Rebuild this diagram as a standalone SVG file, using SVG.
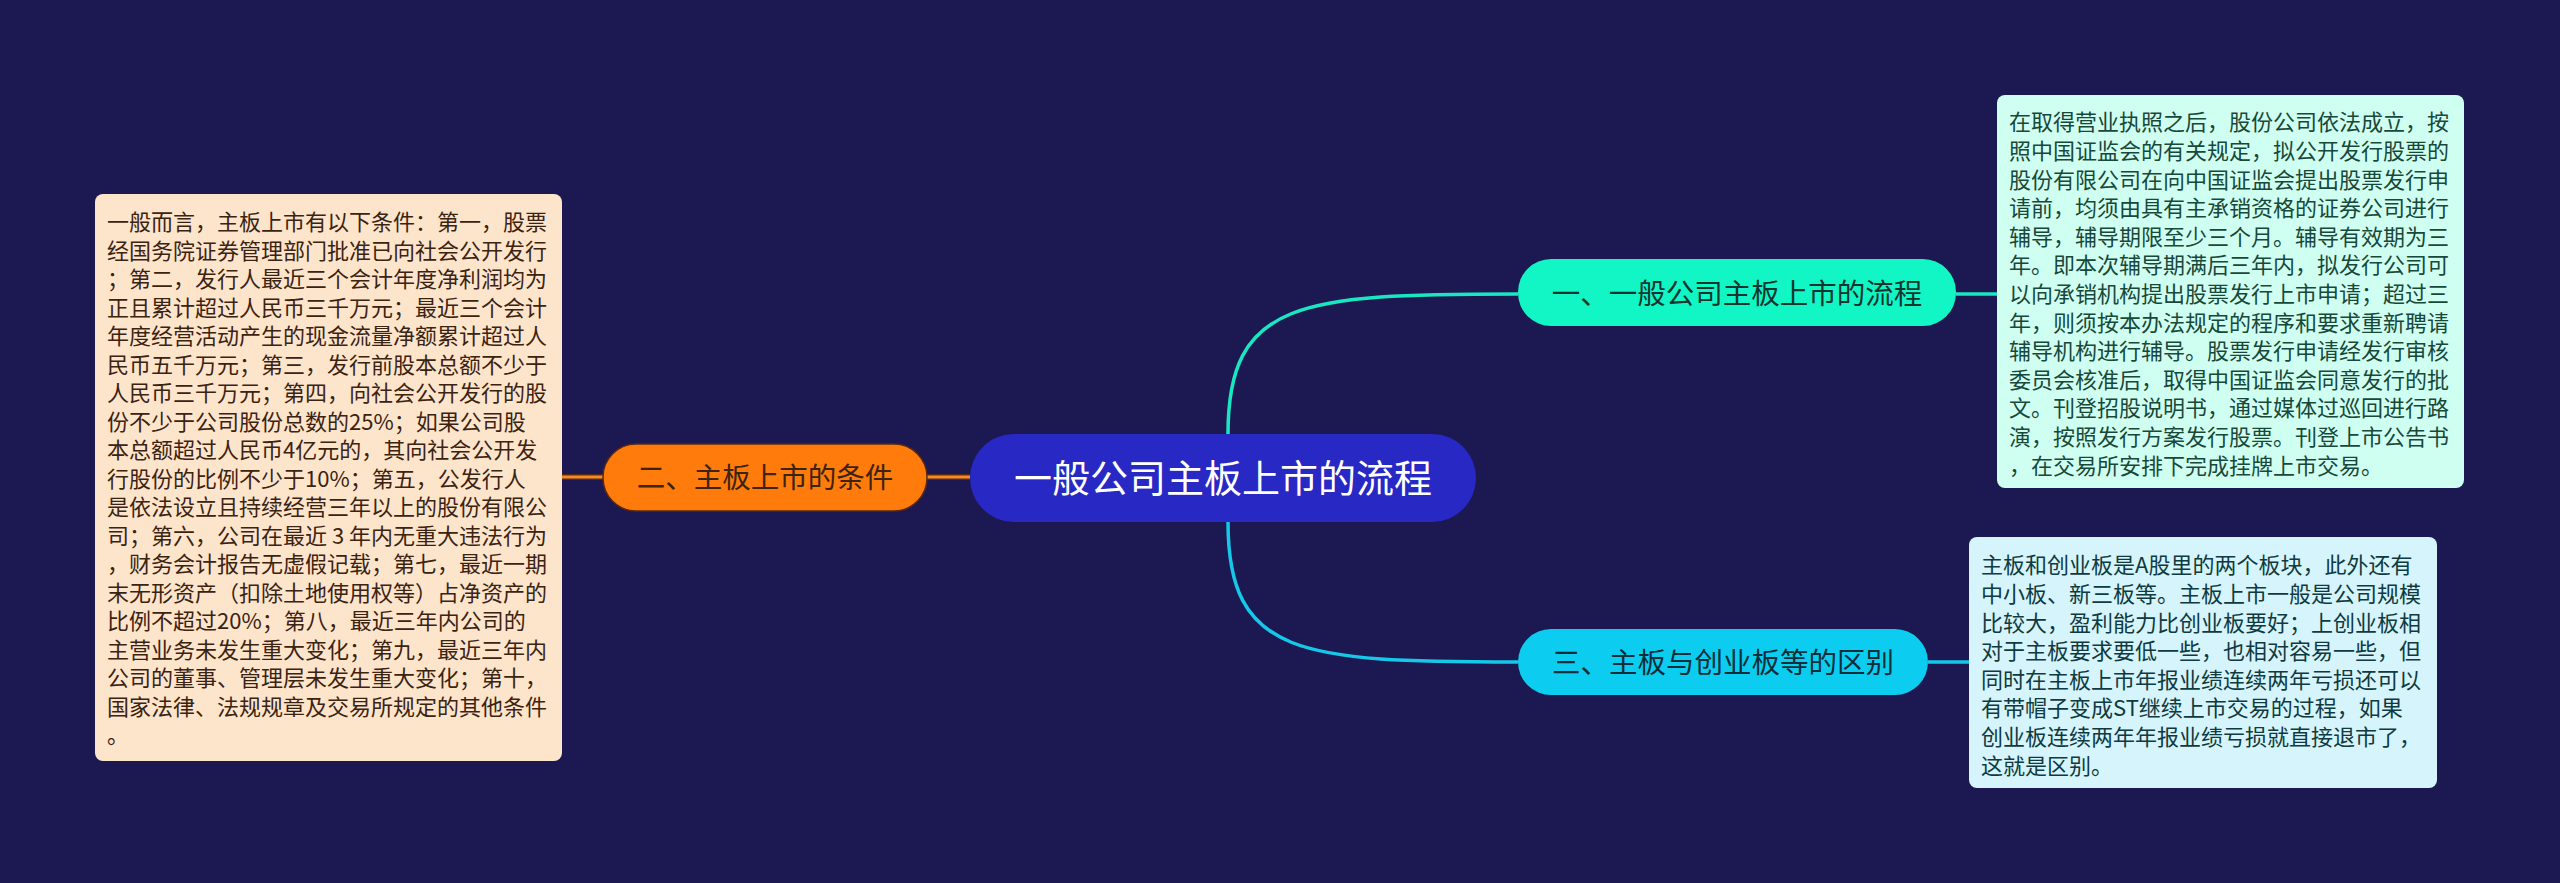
<svg xmlns="http://www.w3.org/2000/svg" width="2560" height="883" viewBox="0 0 2560 883">
<style>
.cjk{font-family:"Noto Sans CJK SC","Noto Sans",sans-serif;}
.body{font-size:22px;}
.topic{font-size:28.5px;}
</style>
<rect width="2560" height="883" fill="#1b1852"/>
<g id="connectors" fill="none">
<path d="M1228,434 C1228,300 1300,294 1518,294" stroke="#1ae6c2" stroke-width="3.5"/>
<path d="M1228,522 C1228,656 1300,662 1518,662" stroke="#16c8e8" stroke-width="3.5"/>
<line x1="562" y1="477" x2="603" y2="477" stroke="#5a2a10" stroke-width="6"/>
<line x1="562" y1="477" x2="603" y2="477" stroke="#f58a2a" stroke-width="3"/>
<line x1="927" y1="477" x2="970" y2="477" stroke="#5a2a10" stroke-width="6"/>
<line x1="927" y1="477" x2="970" y2="477" stroke="#f58a2a" stroke-width="3"/>
<line x1="1956" y1="294" x2="1997" y2="294" stroke="#1ae6c2" stroke-width="3.5"/>
<line x1="1928" y1="662" x2="1969" y2="662" stroke="#16c8e8" stroke-width="3.5"/>
</g>
<g id="root">
<rect x="970" y="434" width="506" height="88" rx="44" fill="#2828c4"/>
<text class="cjk" x="1223" y="492" font-size="38" fill="#ffffff" text-anchor="middle">一般公司主板上市的流程</text>
</g>
<g id="topic2">
<rect x="603" y="444" width="324" height="67" rx="33" fill="#ff7b0b" stroke="#5a2a10" stroke-width="1.5"/>
<text class="cjk topic" x="765" y="488" fill="#3d2410" text-anchor="middle">二、主板上市的条件</text>
</g>
<g id="topic1">
<rect x="1518" y="259" width="438" height="67" rx="33" fill="#12f5c4"/>
<text class="cjk topic" x="1737" y="304" fill="#10352f" text-anchor="middle">一、一般公司主板上市的流程</text>
</g>
<g id="topic3">
<rect x="1518" y="629" width="410" height="66" rx="33" fill="#0ccdf0"/>
<text class="cjk topic" x="1723" y="673" fill="#0a2f3a" text-anchor="middle">三、主板与创业板等的区别</text>
</g>
<g id="note2">
<rect x="95" y="194" width="467" height="567" rx="8" fill="#fde5cc"/>
<text class="cjk body" fill="#3b2312" x="107" y="230.4">
<tspan x="107">一般而言，主板上市有以下条件：第一，股票</tspan>
<tspan x="107" dy="28.5">经国务院证券管理部门批准已向社会公开发行</tspan>
<tspan x="107" dy="28.5">；第二，发行人最近三个会计年度净利润均为</tspan>
<tspan x="107" dy="28.5">正且累计超过人民币三千万元；最近三个会计</tspan>
<tspan x="107" dy="28.5">年度经营活动产生的现金流量净额累计超过人</tspan>
<tspan x="107" dy="28.5">民币五千万元；第三，发行前股本总额不少于</tspan>
<tspan x="107" dy="28.5">人民币三千万元；第四，向社会公开发行的股</tspan>
<tspan x="107" dy="28.5">份不少于公司股份总数的25%；如果公司股</tspan>
<tspan x="107" dy="28.5">本总额超过人民币4亿元的，其向社会公开发</tspan>
<tspan x="107" dy="28.5">行股份的比例不少于10%；第五，公发行人</tspan>
<tspan x="107" dy="28.5">是依法设立且持续经营三年以上的股份有限公</tspan>
<tspan x="107" dy="28.5">司；第六，公司在最近 3 年内无重大违法行为</tspan>
<tspan x="107" dy="28.5">，财务会计报告无虚假记载；第七，最近一期</tspan>
<tspan x="107" dy="28.5">末无形资产（扣除土地使用权等）占净资产的</tspan>
<tspan x="107" dy="28.5">比例不超过20%；第八，最近三年内公司的</tspan>
<tspan x="107" dy="28.5">主营业务未发生重大变化；第九，最近三年内</tspan>
<tspan x="107" dy="28.5">公司的董事、管理层未发生重大变化；第十，</tspan>
<tspan x="107" dy="28.5">国家法律、法规规章及交易所规定的其他条件</tspan>
<tspan x="107" dy="28.5">。</tspan>
</text>
</g>
<g id="note1">
<rect x="1997" y="95" width="467" height="393" rx="8" fill="#cffff1"/>
<text class="cjk body" fill="#17483a" x="2009" y="130.4">
<tspan x="2009">在取得营业执照之后，股份公司依法成立，按</tspan>
<tspan x="2009" dy="28.6">照中国证监会的有关规定，拟公开发行股票的</tspan>
<tspan x="2009" dy="28.6">股份有限公司在向中国证监会提出股票发行申</tspan>
<tspan x="2009" dy="28.6">请前，均须由具有主承销资格的证券公司进行</tspan>
<tspan x="2009" dy="28.6">辅导，辅导期限至少三个月。辅导有效期为三</tspan>
<tspan x="2009" dy="28.6">年。即本次辅导期满后三年内，拟发行公司可</tspan>
<tspan x="2009" dy="28.6">以向承销机构提出股票发行上市申请；超过三</tspan>
<tspan x="2009" dy="28.6">年，则须按本办法规定的程序和要求重新聘请</tspan>
<tspan x="2009" dy="28.6">辅导机构进行辅导。股票发行申请经发行审核</tspan>
<tspan x="2009" dy="28.6">委员会核准后，取得中国证监会同意发行的批</tspan>
<tspan x="2009" dy="28.6">文。刊登招股说明书，通过媒体过巡回进行路</tspan>
<tspan x="2009" dy="28.6">演，按照发行方案发行股票。刊登上市公告书</tspan>
<tspan x="2009" dy="28.6">，在交易所安排下完成挂牌上市交易。</tspan>
</text>
</g>
<g id="note3">
<rect x="1969" y="537" width="468" height="251" rx="8" fill="#d5f4fc"/>
<text class="cjk body" fill="#0f3a40" x="1981" y="573.4">
<tspan x="1981">主板和创业板是A股里的两个板块，此外还有</tspan>
<tspan x="1981" dy="28.6">中小板、新三板等。主板上市一般是公司规模</tspan>
<tspan x="1981" dy="28.6">比较大，盈利能力比创业板要好；上创业板相</tspan>
<tspan x="1981" dy="28.6">对于主板要求要低一些，也相对容易一些，但</tspan>
<tspan x="1981" dy="28.6">同时在主板上市年报业绩连续两年亏损还可以</tspan>
<tspan x="1981" dy="28.6">有带帽子变成ST继续上市交易的过程，如果</tspan>
<tspan x="1981" dy="28.6">创业板连续两年年报业绩亏损就直接退市了，</tspan>
<tspan x="1981" dy="28.6">这就是区别。</tspan>
</text>
</g>
</svg>
